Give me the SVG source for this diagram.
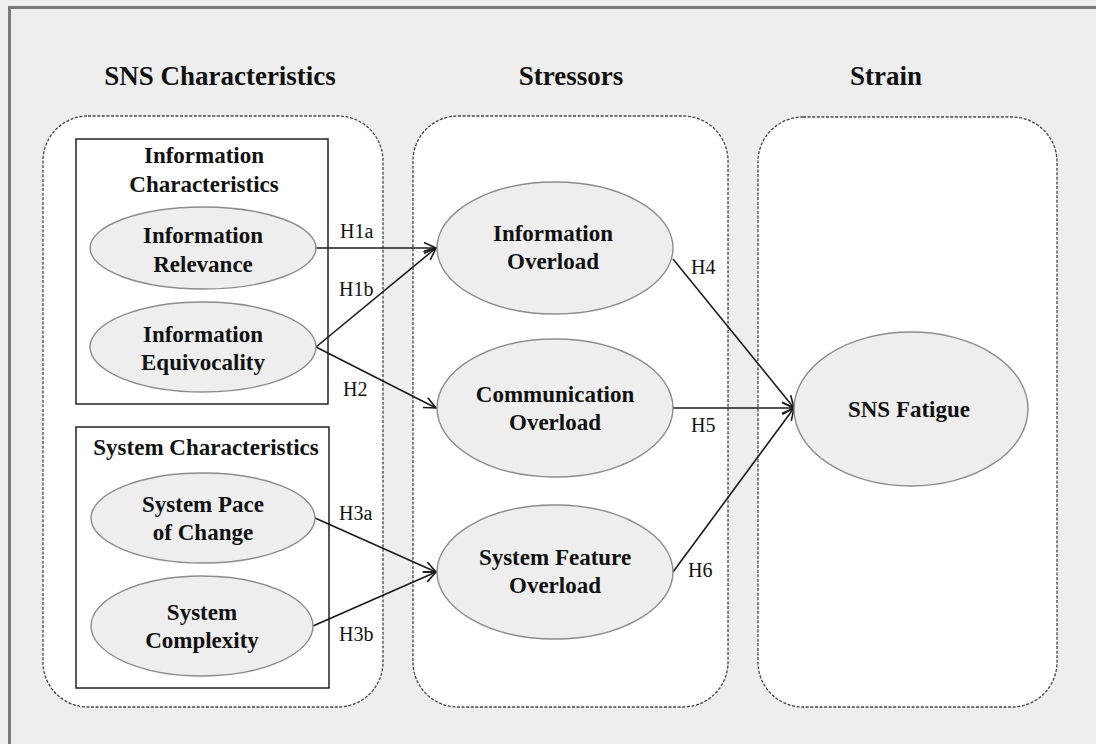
<svg xmlns="http://www.w3.org/2000/svg" width="1096" height="744" viewBox="0 0 1096 744">
<style>
.title{font-family:"Liberation Serif","Times New Roman",serif;font-weight:bold;font-size:27px;fill:#111;text-anchor:middle}
.nt{font-family:"Liberation Serif","Times New Roman",serif;font-weight:bold;font-size:23px;fill:#111;text-anchor:middle}
.lbl{font-family:"Liberation Serif","Times New Roman",serif;font-size:20px;fill:#111}
.cont{fill:#fff;stroke:#444;stroke-width:1.3;stroke-dasharray:3 1.6}
.box{fill:#fff;stroke:#222;stroke-width:1.5}
.node{fill:#eeeeee;stroke:#8c8c8c;stroke-width:1.4}
.edge{stroke:#1a1a1a;stroke-width:1.6;fill:none;marker-end:url(#arr)}
</style>
<defs>
<marker id="arr" markerUnits="userSpaceOnUse" markerWidth="16" markerHeight="14" refX="13" refY="6" orient="auto">
<path d="M1,0.5 L13,6 L1,11.5" fill="none" stroke="#1a1a1a" stroke-width="1.6"/>
</marker>
</defs>
<rect x="0" y="0" width="1096" height="744" fill="#eeeeee"/>
<rect x="9.5" y="7.5" width="1100" height="760" fill="none" stroke="#7a7a7a" stroke-width="3"/>

<g id="col-sns">
<text class="title" x="220" y="85">SNS Characteristics</text>
<rect class="cont" x="43" y="116" width="340" height="591" rx="45" ry="45"/>
</g>
<g id="col-stressors">
<text class="title" x="571" y="85">Stressors</text>
<rect class="cont" x="413" y="116" width="315" height="591" rx="45" ry="45"/>
</g>
<g id="col-strain">
<text class="title" x="886" y="85">Strain</text>
<rect class="cont" x="758" y="117" width="299" height="590" rx="45" ry="45"/>
</g>

<g id="grp-info">
<rect class="box" x="76" y="139" width="252" height="265"/>
<text class="nt" x="204" y="163">Information</text>
<text class="nt" x="204" y="192">Characteristics</text>
</g>
<g id="grp-system">
<rect class="box" x="76" y="427" width="253" height="261"/>
<text class="nt" x="206" y="455">System Characteristics</text>
</g>

<g id="connectors">
<line class="edge" x1="316" y1="248" x2="436" y2="248"/>
<line class="edge" x1="316" y1="347" x2="436" y2="248"/>
<line class="edge" x1="316" y1="347" x2="436" y2="408"/>
<line class="edge" x1="315" y1="518" x2="436" y2="572"/>
<line class="edge" x1="313" y1="626" x2="436" y2="572"/>
<line class="edge" x1="673" y1="259" x2="794" y2="408"/>
<line class="edge" x1="673" y1="408" x2="794" y2="408"/>
<line class="edge" x1="673" y1="572" x2="794" y2="408"/>
<text class="lbl" x="340" y="238">H1a</text>
<text class="lbl" x="339" y="296">H1b</text>
<text class="lbl" x="343" y="396">H2</text>
<text class="lbl" x="339" y="520">H3a</text>
<text class="lbl" x="339" y="641">H3b</text>
<text class="lbl" x="691" y="274">H4</text>
<text class="lbl" x="691" y="432">H5</text>
<text class="lbl" x="688" y="577">H6</text>
</g>

<g id="n-relevance">
<ellipse class="node" cx="203" cy="248" rx="113" ry="41"/>
<text class="nt" x="203" y="243">Information</text>
<text class="nt" x="203" y="272">Relevance</text>
</g>
<g id="n-equivocality">
<ellipse class="node" cx="203" cy="347" rx="113" ry="45"/>
<text class="nt" x="203" y="342">Information</text>
<text class="nt" x="203" y="370">Equivocality</text>
</g>
<g id="n-pace">
<ellipse class="node" cx="203" cy="518" rx="112" ry="45"/>
<text class="nt" x="203" y="512">System Pace</text>
<text class="nt" x="203" y="540">of Change</text>
</g>
<g id="n-complexity">
<ellipse class="node" cx="202" cy="626" rx="111" ry="50"/>
<text class="nt" x="202" y="620">System</text>
<text class="nt" x="202" y="648">Complexity</text>
</g>
<g id="n-info-overload">
<ellipse class="node" cx="555" cy="248" rx="118" ry="66"/>
<text class="nt" x="553" y="241">Information</text>
<text class="nt" x="553" y="269">Overload</text>
</g>
<g id="n-comm-overload">
<ellipse class="node" cx="555" cy="408" rx="118" ry="69"/>
<text class="nt" x="555" y="402">Communication</text>
<text class="nt" x="555" y="430">Overload</text>
</g>
<g id="n-feature-overload">
<ellipse class="node" cx="555" cy="572" rx="118" ry="67"/>
<text class="nt" x="555" y="565">System Feature</text>
<text class="nt" x="555" y="593">Overload</text>
</g>
<g id="n-fatigue">
<ellipse class="node" cx="911" cy="409" rx="117" ry="77"/>
<text class="nt" x="909" y="417">SNS Fatigue</text>
</g>
</svg>
